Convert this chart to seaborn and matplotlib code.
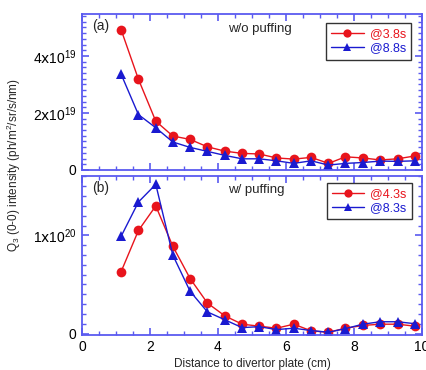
import matplotlib
matplotlib.use("Agg")
import matplotlib.pyplot as plt
import seaborn as sns
import pandas as pd
from matplotlib.ticker import MultipleLocator

sns.set_theme(style="ticks")
plt.rcParams['font.family'] = ['Liberation Sans', 'DejaVu Sans']
plt.rcParams['mathtext.default'] = 'regular'

# Data
distance = [1.15, 1.66, 2.17, 2.67, 3.18, 3.69, 4.20, 4.71, 5.21, 5.72,
            6.23, 6.74, 7.25, 7.75, 8.26, 8.77, 9.28, 9.79]
a_38s = [4.92e19, 3.18e19, 1.71e19, 1.19e19, 1.07e19, 0.81e19, 0.66e19, 0.58e19, 0.56e19,
         0.42e19, 0.38e19, 0.44e19, 0.23e19, 0.46e19, 0.42e19, 0.35e19, 0.39e19, 0.49e19]
a_88s = [3.36e19, 1.94e19, 1.48e19, 0.98e19, 0.79e19, 0.65e19, 0.51e19, 0.39e19, 0.39e19,
         0.32e19, 0.23e19, 0.32e19, 0.17e19, 0.23e19, 0.26e19, 0.31e19, 0.30e19, 0.32e19]
b_43s = [0.63e20, 1.05e20, 1.30e20, 0.89e20, 0.56e20, 0.31e20, 0.18e20, 0.095e20, 0.075e20,
         0.054e20, 0.095e20, 0.027e20, 0.013e20, 0.054e20, 0.082e20, 0.095e20, 0.095e20, 0.075e20]
b_83s = [0.99e20, 1.34e20, 1.52e20, 0.80e20, 0.43e20, 0.22e20, 0.14e20, 0.06e20, 0.07e20,
         0.04e20, 0.054e20, 0.03e20, 0.013e20, 0.05e20, 0.095e20, 0.12e20, 0.12e20, 0.10e20]

top_labels = ['@3.8s', '@8.8s']
bot_labels = ['@4.3s', '@8.3s']
top_yticks = [0, 2e19, 4e19]
top_yticklabels = ['0', r'$2\mathrm{x}10^{19}$', r'$4\mathrm{x}10^{19}$']
bot_yticks = [0, 1e20]
bot_yticklabels = ['0', r'$1\mathrm{x}10^{20}$']

RED = '#e8141c'
BLUE = '#1a1ad0'
FRAME = '#5a5af0'

fig = plt.figure(figsize=(4.27, 3.70), dpi=100)
ax1 = fig.add_axes([82/427, (370-170.5)/370, 340/427, 156.5/370])
ax2 = fig.add_axes([82/427, (370-334.5)/370, 340/427, 158.5/370])


def draw(ax, s1, s2, labels):
    df = pd.DataFrame({
        'x': distance * 2,
        'y': list(s1) + list(s2),
        'series': [labels[0]] * len(distance) + [labels[1]] * len(distance),
    })
    sns.lineplot(data=df, x='x', y='y', hue='series', style='series',
                 markers=['o', '^'], dashes=False,
                 palette=[RED, BLUE], ax=ax, linewidth=1.0,
                 markersize=7, markeredgewidth=0)
    leg = ax.legend(loc='upper right', frameon=True, fancybox=False,
                    edgecolor='black', fontsize=9, handlelength=2.6,
                    borderaxespad=0, handletextpad=0.5, labelspacing=0.2,
                    borderpad=0.4, markerscale=0.85)
    leg.get_frame().set_linewidth(1.0)
    for t, c in zip(leg.get_texts(), [RED, BLUE]):
        t.set_color(c)
    return leg


leg1 = draw(ax1, a_38s, a_88s, top_labels)
leg1.set_bbox_to_anchor((0.968, 0.942), transform=ax1.transAxes)
leg2 = draw(ax2, b_43s, b_83s, bot_labels)
leg2.set_bbox_to_anchor((0.97, 0.956), transform=ax2.transAxes)

ax1.set_ylim(-0.02e19, 5.47e19)
ax2.set_ylim(-0.01e20, 1.605e20)
ax1.set_yticks(top_yticks)
ax1.set_yticklabels(top_yticklabels)
ax2.set_yticks(bot_yticks)
ax2.set_yticklabels(bot_yticklabels)
ax1.yaxis.set_minor_locator(MultipleLocator(0.2e19))
ax2.yaxis.set_minor_locator(MultipleLocator(0.1e20))

for ax in (ax1, ax2):
    ax.set_xlim(0, 10)
    ax.set_xticks([0, 2, 4, 6, 8, 10])
    ax.xaxis.set_minor_locator(MultipleLocator(0.5))
    ax.set_xlabel('')
    ax.set_ylabel('')
    for sp in ax.spines.values():
        sp.set_color(FRAME)
        sp.set_linewidth(1.3)
        sp.set_visible(True)
    ax.tick_params(which='both', direction='in', top=True, right=True,
                   color=FRAME, labelsize=10, labelcolor='black', pad=4)
    ax.tick_params(which='major', length=5, width=1.2)
    ax.tick_params(which='minor', length=3, width=1.0)

ax1.tick_params(labelbottom=False)

ax1.text(0.03, 0.925, '(a)', transform=ax1.transAxes, fontsize=10, va='center')
ax1.text(0.43, 0.905, 'w/o puffing', transform=ax1.transAxes, fontsize=9.5, va='center')
ax2.text(0.03, 0.925, '(b)', transform=ax2.transAxes, fontsize=10, va='center')
ax2.text(0.43, 0.91, 'w/ puffing', transform=ax2.transAxes, fontsize=9.5, va='center')

ax2.set_xlabel('Distance to divertor plate (cm)', fontsize=8.5, labelpad=3)
fig.text(14/427, (370-165)/370, r'$Q_3$ (0-0) intensity (ph/m$^2$/sr/s/nm)',
         rotation=90, va='center', ha='center', fontsize=8.5)

fig.savefig('out.png', dpi=100)
